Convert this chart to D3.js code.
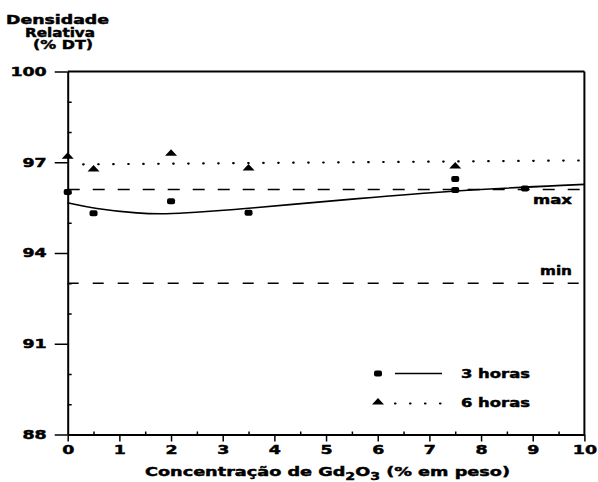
<!DOCTYPE html>
<html>
<head>
<meta charset="utf-8">
<script src="https://cdn.jsdelivr.net/npm/d3@7.9.0/dist/d3.min.js"></script>
<style>
  body { margin: 0; background: #fff; }
  text { font-family: "DejaVu Sans", sans-serif; font-weight: bold; fill: #000; stroke: #000; stroke-width: 0.45px; }
</style>
</head>
<body>
<svg id="chart" width="598" height="482"></svg>
<script>
// tick values
const xTicks = [0, 1, 2, 3, 4, 5, 6, 7, 8, 9, 10];
const xMinor = [0.5, 1.5, 2.5, 3.5, 4.5, 5.5, 6.5, 7.5, 8.5, 9.5];
const yTicks = [88, 91, 94, 97, 100];
const yMinor = [89, 90, 92, 93, 95, 96, 98, 99];

const pts3h = [[0, 96.02], [0.5, 95.31], [2, 95.71], [3.5, 95.33], [7.5, 96.45], [7.5, 96.08], [8.85, 96.13]];
const pts6h = [[0, 97.2], [0.5, 96.78], [2, 97.3], [3.5, 96.81], [7.5, 96.88]];

// fitted curves
const fit3h = [[0, 95.66], [0.5, 95.47], [1.4, 95.3], [1.9, 95.29], [2.4, 95.33], [3.4, 95.46],
               [4.3, 95.6], [5.5, 95.78], [7.4, 96.06], [10, 96.27]];
const fit6h = [[0.3, 96.93], [10, 97.06]];

// specification limits
const maxLevel = 96.1;
const minLevel = 93.0;

const svg = d3.select('#chart');
const x = d3.scaleLinear().domain([0, 10]).range([67.7, 584.4]);
const y = d3.scaleLinear().domain([88, 100]).range([434.5, 71.5]);

// wide bold text like the original typeface
function label(px, py, str, anchor, len) {
  return svg.append('text')
    .attr('x', px).attr('y', py)
    .attr('text-anchor', anchor)
    .attr('font-size', 12)
    .attr('textLength', len)
    .attr('lengthAdjust', 'spacingAndGlyphs')
    .text(str);
}

// y axis
const yAxis = svg.append('g')
  .attr('transform', `translate(${x(0)},0)`)
  .call(d3.axisLeft(y).tickValues(yTicks).tickSize(13).tickSizeOuter(0).tickPadding(8));
yAxis.selectAll('text')
  .attr('x', 0)
  .attr('transform', 'translate(-21,0) scale(1.45,1)')
  .attr('font-size', 12);
svg.append('g')
  .attr('transform', `translate(${x(0)},0)`)
  .call(d3.axisRight(y).tickValues(yMinor).tickSize(4).tickFormat(''))
  .select('.domain').remove();

// x axis
const xAxis = svg.append('g')
  .attr('transform', `translate(0,${y(88)})`)
  .call(d3.axisBottom(x).tickValues(xTicks).tickSize(7).tickSizeOuter(0).tickPadding(4));
xAxis.selectAll('text')
  .attr('x', 0)
  .attr('transform', 'scale(1.45,1)')
  .attr('font-size', 12);
svg.append('g')
  .attr('transform', `translate(0,${y(88)})`)
  .call(d3.axisTop(x).tickValues(xMinor).tickSize(3).tickFormat(''))
  .select('.domain').remove();

svg.selectAll('.domain').attr('stroke-width', 2);
svg.selectAll('.tick line').attr('stroke-width', 1.5);

// frame: top and right sides
svg.append('line').attr('x1', x(0)).attr('x2', x(10)).attr('y1', y(100)).attr('y2', y(100))
  .attr('stroke', '#000').attr('stroke-width', 2);
svg.append('line').attr('x1', x(10)).attr('x2', x(10)).attr('y1', y(100)).attr('y2', y(88))
  .attr('stroke', '#000').attr('stroke-width', 2);

// limit lines
svg.append('line').attr('x1', x(0)).attr('x2', x(10)).attr('y1', y(maxLevel)).attr('y2', y(maxLevel))
  .attr('stroke', '#000').attr('stroke-width', 1.5).attr('stroke-dasharray', '12,13');
svg.append('line').attr('x1', x(0)).attr('x2', x(10)).attr('y1', y(minLevel)).attr('y2', y(minLevel))
  .attr('stroke', '#000').attr('stroke-width', 1.5).attr('stroke-dasharray', '11,14');
label(533, 204, 'max', 'start', 39);
label(540, 275, 'min', 'start', 32);

// fitted lines
svg.append('path').datum(fit3h)
  .attr('d', d3.line().x(d => x(d[0])).y(d => y(d[1])).curve(d3.curveBasis))
  .attr('fill', 'none').attr('stroke', '#000').attr('stroke-width', 1.6);
svg.append('path').datum(fit6h)
  .attr('d', d3.line().x(d => x(d[0])).y(d => y(d[1])))
  .attr('fill', 'none').attr('stroke', '#000').attr('stroke-width', 2.2)
  .attr('stroke-linecap', 'round').attr('stroke-dasharray', '0.5,14.5');

// markers
const tri = 'M0,-4L6,2.5L-6,2.5Z';
svg.selectAll('.sq').data(pts3h).join('rect')
  .attr('x', d => x(d[0]) - 4).attr('y', d => y(d[1]) - 3)
  .attr('width', 8).attr('height', 6).attr('rx', 2).attr('fill', '#000');
svg.selectAll('.tri').data(pts6h).join('path')
  .attr('d', tri)
  .attr('transform', d => `translate(${x(d[0])},${y(d[1])})`)
  .attr('fill', '#000');

// legend
svg.append('rect').attr('x', 374).attr('y', 370.5).attr('width', 8).attr('height', 6).attr('rx', 2);
svg.append('line').attr('x1', 395).attr('x2', 442).attr('y1', 373.5).attr('y2', 373.5)
  .attr('stroke', '#000').attr('stroke-width', 1.5);
label(461, 378, '3 horas', 'start', 69);
svg.append('path').attr('d', tri).attr('transform', 'translate(378,402)');
svg.append('line').attr('x1', 395).attr('x2', 446).attr('y1', 403.5).attr('y2', 403.5)
  .attr('stroke', '#000').attr('stroke-width', 2.2)
  .attr('stroke-linecap', 'round').attr('stroke-dasharray', '0.5,14.5');
label(461, 406.5, '6 horas', 'start', 69);

// y title
label(57.5, 24, 'Densidade', 'middle', 103);
label(60, 36.5, 'Relativa', 'middle', 70);
label(63, 49, '(% DT)', 'middle', 60);

// x title with subscripts
const xt = svg.append('text')
  .attr('x', 327.5).attr('y', 476)
  .attr('text-anchor', 'middle')
  .attr('font-size', 12.5)
  .attr('textLength', 365)
  .attr('lengthAdjust', 'spacingAndGlyphs');
xt.append('tspan').text('Concentração de Gd');
xt.append('tspan').attr('dy', 4).attr('font-size', 10).text('2');
xt.append('tspan').attr('dy', -4).text('O');
xt.append('tspan').attr('dy', 4).attr('font-size', 10).text('3');
xt.append('tspan').attr('dy', -4).text(' (% em peso)');
</script>
</body>
</html>
